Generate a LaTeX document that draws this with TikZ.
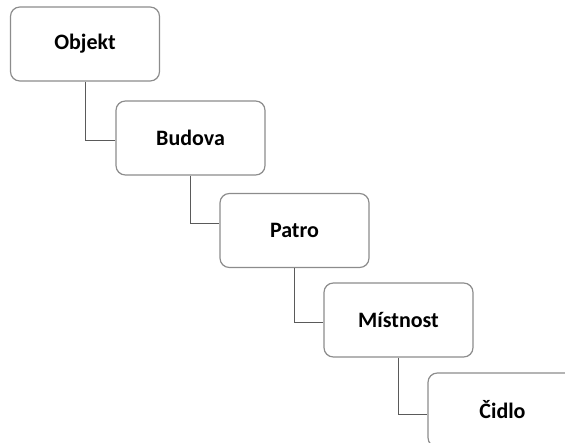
\documentclass[tikz,border=0pt]{standalone}
\usepackage{fontspec}
\setmainfont{Carlito}
\definecolor{boxline}{HTML}{8C8C8C}
\definecolor{linkline}{HTML}{5A5A5A}
\begin{document}
\begin{tikzpicture}[x=0.75pt,y=-0.75pt,
  level/.style={draw=boxline,line width=0.9pt,rounded corners=7pt,fill=white,
    minimum width=111.75pt,minimum height=55.5pt,inner sep=0pt,
    font=\fontsize{16.5}{19}\selectfont\bfseries},
  link/.style={draw=linkline,line width=0.75pt}]
\useasboundingbox (0,0) rectangle (565,443);
\clip (0,0) rectangle (565,443);
\node[level] (objekt)   at (85,44)    {Objekt};
\node[level] (budova)   at (190.5,138) {Budova};
\node[level] (patro)    at (294.5,230.5) {Patro};
\node[level] (mistnost) at (398.5,320) {Místnost};
\node[level] (cidlo)    at (502.5,410) {Čidlo};
\draw[link] (objekt.south)   |- ([yshift=-1.5pt]budova.west);
\draw[link] (budova.south)   |- ([yshift=5.6pt]patro.west);
\draw[link] (patro.south)    |- ([yshift=-2.2pt]mistnost.west);
\draw[link] (mistnost.south) |- ([yshift=-3.7pt]cidlo.west);
\end{tikzpicture}
\end{document}
